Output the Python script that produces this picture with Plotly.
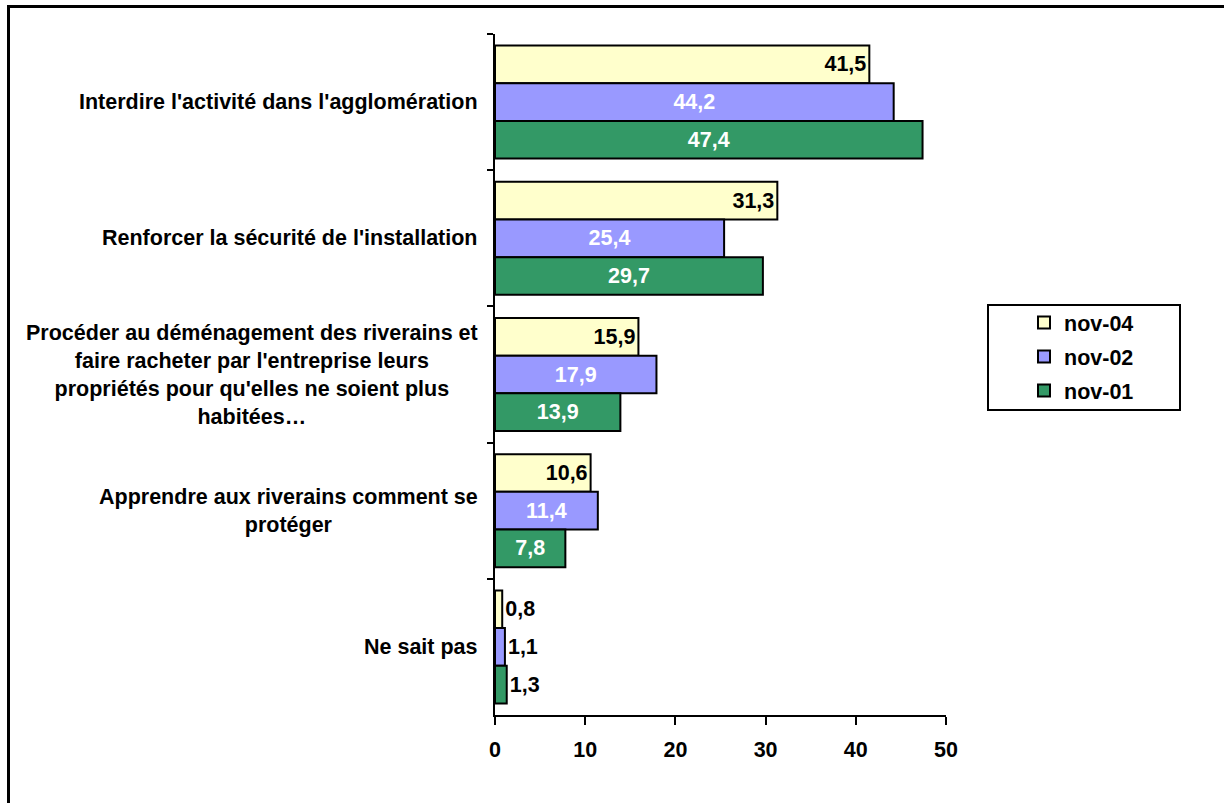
import plotly.graph_objects as go

categories = [
    "Interdire l'activité dans l'agglomération",
    "Renforcer la sécurité de l'installation",
    "Procéder au déménagement des riverains et<br>faire racheter par l'entreprise leurs<br>propriétés pour qu'elles ne soient plus<br>habitées…",
    "Apprendre aux riverains comment se<br>protéger",
    "Ne sait pas",
]
series_names = ["nov-04", "nov-02", "nov-01"]
nov04 = [41.5, 31.3, 15.9, 10.6, 0.8]
nov02 = [44.2, 25.4, 17.9, 11.4, 1.1]
nov01 = [47.4, 29.7, 13.9, 7.8, 1.3]
x_ticks = [0, 10, 20, 30, 40, 50]

W, H = 1224, 803
L, R, T, B = 495, 278, 34, 88
PW, PH = W - L - R, H - T - B


def px(x):
    return (x - L) / PW


def py(y):
    return (H - B - y) / PH


FONT = "Liberation Sans, Arial, sans-serif"
FS = 21.5
colors = ["#FFFFCC", "#9999FF", "#339966"]
inside_colors = ["black", "white", "white"]
anchors = ["end", "middle", "middle"]

fig = go.Figure()
for name, vals, col, tcol, anc in zip(series_names, [nov04, nov02, nov01], colors, inside_colors, anchors):
    fig.add_trace(go.Bar(
        y=categories, x=vals, name=name, orientation="h",
        legendgroup=name,
        marker=dict(color=col, line=dict(color="black", width=2)),
        texttemplate="%{x:.1f}",
        textposition=["inside", "inside", "inside", "inside", "outside"],
        insidetextanchor=anc,
        insidetextfont=dict(family=FONT, size=FS, color=tcol, weight="bold"),
        outsidetextfont=dict(family=FONT, size=FS, color="black", weight="bold"),
        constraintext="none",
        cliponaxis=False,
    ))

annotations = []
for c in categories:
    annotations.append(dict(
        x=0, xref="paper", y=c, yref="y", text=c, showarrow=False,
        xanchor="right", yanchor="middle", align="center", xshift=-15,
        font=dict(family=FONT, size=FS, color="black", weight="bold"),
    ))

shapes = [
    dict(type="rect", xref="paper", yref="paper",
         x0=px(8.5), x1=px(1260), y0=py(840), y1=py(6.5),
         line=dict(color="black", width=3), fillcolor="rgba(0,0,0,0)", layer="below"),
    dict(type="rect", xref="paper", yref="paper",
         x0=px(988), x1=px(1180), y0=py(410), y1=py(305),
         line=dict(color="black", width=2), fillcolor="white", layer="below"),
]

fig.update_layout(
    width=W, height=H,
    margin=dict(l=L, r=R, t=T, b=B, pad=0),
    paper_bgcolor="white", plot_bgcolor="white",
    barmode="group", bargap=0.17, bargroupgap=0,
    separators=", ",
    showlegend=True,
    legend=dict(
        x=px(1024), y=py(302), xanchor="left", yanchor="top",
        bgcolor="rgba(0,0,0,0)", borderwidth=0,
        font=dict(family=FONT, size=FS, color="black", weight="bold"),
        traceorder="grouped", tracegroupgap=3,
        itemwidth=30,
    ),
    annotations=annotations,
    shapes=shapes,
    xaxis=dict(
        range=[0, 50], tickvals=x_ticks, ticktext=[str(v) for v in x_ticks],
        showgrid=False, zeroline=False,
        showline=True, linecolor="black", linewidth=2,
        ticks="outside", ticklen=8, tickwidth=2, tickcolor="black",
        tickfont=dict(family=FONT, size=FS, color="black", weight="bold"),
        ticklabelstandoff=6,
    ),
    yaxis=dict(
        autorange="reversed", type="category",
        showgrid=False, zeroline=False,
        showline=True, linecolor="black", linewidth=2,
        ticks="outside", ticklen=6, tickwidth=2, tickcolor="black",
        tickson="boundaries", showticklabels=False,
    ),
)

fig.write_html("out.html", config={"displayModeBar": False},
               post_script="document.body.style.margin='0';")
